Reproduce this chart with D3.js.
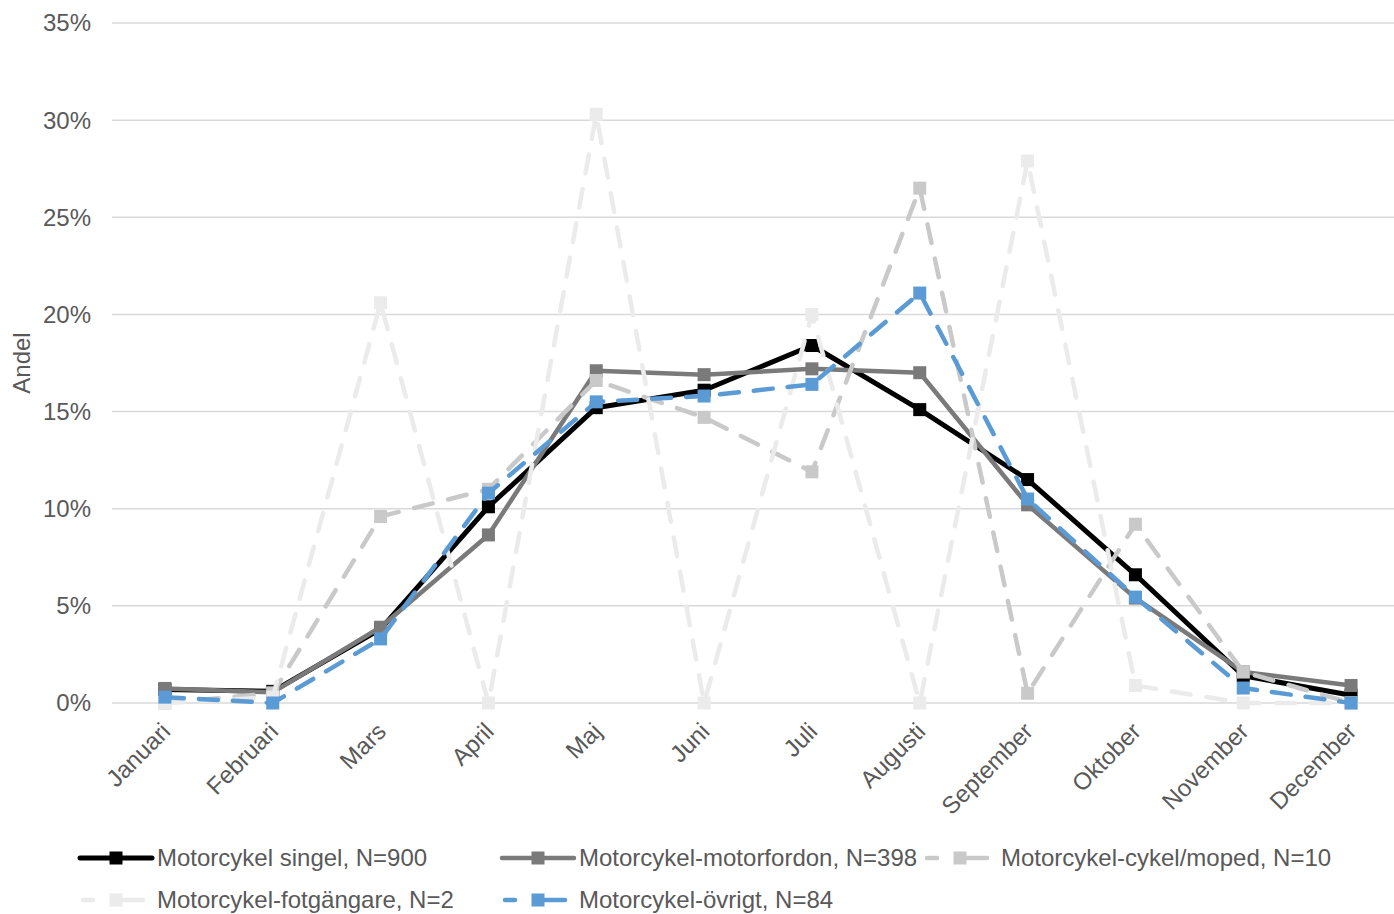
<!DOCTYPE html>
<html><head><meta charset="utf-8">
<script src="https://cdn.jsdelivr.net/npm/d3@7"></script>
<style>body{margin:0;background:#fff;} text{font-family:"Liberation Sans",Arial,sans-serif;}</style>
</head><body><svg id="c" width="1394" height="914"></svg>
<script>
const months = ["Januari","Februari","Mars","April","Maj","Juni","Juli","Augusti","September","Oktober","November","December"];
const yTicks = [0,5,10,15,20,25,30,35];
const singel = [0.7,0.6,3.8,10.1,15.2,16.1,18.4,15.1,11.5,6.6,1.4,0.4];
const motorfordon = [0.75,0.55,3.9,8.65,17.1,16.9,17.2,17.0,10.2,5.4,1.6,0.9];
const cykelMoped = [0,0.5,9.6,11.0,16.6,14.7,11.9,26.5,0.5,9.2,1.6,0];
const fotgangare = [0,0.3,20.6,0,30.3,0,20.0,0,27.9,0.9,0,0];
const ovrigt = [0.3,0,3.3,10.8,15.5,15.8,16.4,21.1,10.5,5.45,0.77,0];
const seriesNames = ["Motorcykel singel, N=900","Motorcykel-motorfordon, N=398","Motorcykel-cykel/moped, N=10","Motorcykel-fotgängare, N=2","Motorcykel-övrigt, N=84"];

const styles = [
  {color:"#000000", dash:null, w:5},
  {color:"#7a7a7a", dash:null, w:4.5},
  {color:"#c9c9c9", dash:"19,16", w:4.5},
  {color:"#ebebeb", dash:"19,16", w:4.5},
  {color:"#5b9bd5", dash:"19,15", w:4.5}
];
const data = [singel, motorfordon, cykelMoped, fotgangare, ovrigt];

const svg = d3.select("#c");
const x = d3.scaleBand().domain(months).range([111,1405]);
const y = d3.scaleLinear().domain([0,35]).range([703,23]);
const cx = m => x(m) + x.bandwidth()/2;

svg.append("g").selectAll("line").data(yTicks).join("line")
  .attr("x1",112).attr("x2",1405).attr("y1",d=>y(d)).attr("y2",d=>y(d))
  .attr("stroke","#d9d9d9").attr("stroke-width",1.5);

svg.append("g").selectAll("text").data(yTicks).join("text")
  .attr("x",91).attr("y",d=>y(d)).attr("dy","0.35em").attr("text-anchor","end")
  .attr("fill","#595959").attr("font-size",24).text(d=>d+"%");

svg.append("text").attr("transform","translate(30,363) rotate(-90)").attr("text-anchor","middle")
  .attr("fill","#595959").attr("font-size",24).text("Andel");

svg.append("g").selectAll("text").data(months).join("text")
  .attr("transform",d=>`translate(${cx(d)+1},${727}) rotate(-45)`)
  .attr("text-anchor","end").attr("dy","0.35em")
  .attr("fill","#595959").attr("font-size",24).text(d=>d);

const line = d3.line().x((d,i)=>cx(months[i])).y(d=>y(d));

data.forEach((vals,k)=>{
  const s = styles[k];
  const g = svg.append("g");
  g.append("path").datum(vals).attr("d",line).attr("fill","none")
    .attr("stroke",s.color).attr("stroke-width",s.w)
    .attr("stroke-linecap",s.dash?"round":"butt").attr("stroke-linejoin","round")
    .attr("stroke-dasharray",s.dash);
  g.selectAll("rect").data(vals).join("rect")
    .attr("x",(d,i)=>cx(months[i])-6.5).attr("y",d=>y(d)-6.5)
    .attr("width",13).attr("height",13).attr("fill",s.color);
});

const legPos = [[80,858],[502,858],[924,858],[80,900],[502,900]];
seriesNames.forEach((name,k)=>{
  const s = styles[k];
  const [lx,ly] = legPos[k];
  const g = svg.append("g");
  if (s.dash) {
    g.append("line").attr("x1",lx+3).attr("x2",lx+13).attr("y1",ly).attr("y2",ly)
      .attr("stroke",s.color).attr("stroke-width",s.w).attr("stroke-linecap","round");
    g.append("line").attr("x1",lx+32).attr("x2",lx+63).attr("y1",ly).attr("y2",ly)
      .attr("stroke",s.color).attr("stroke-width",s.w).attr("stroke-linecap","round");
  } else {
    g.append("line").attr("x1",lx).attr("x2",lx+72).attr("y1",ly).attr("y2",ly)
      .attr("stroke",s.color).attr("stroke-width",s.w).attr("stroke-linecap","round");
  }
  g.append("rect").attr("x",lx+29.5).attr("y",ly-6.5).attr("width",13).attr("height",13).attr("fill",s.color);
  g.append("text").attr("x",lx+77).attr("y",ly).attr("dy","0.35em")
    .attr("fill","#595959").attr("font-size",24).text(name);
});
</script></body></html>
